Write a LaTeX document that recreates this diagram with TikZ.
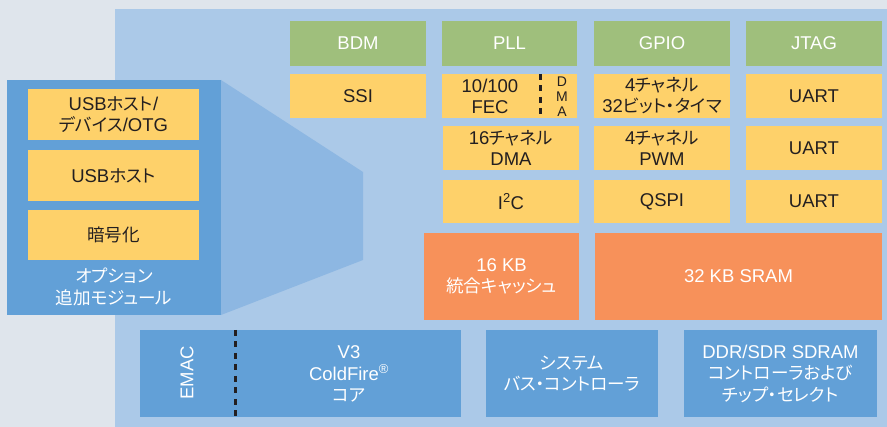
\documentclass[tikz,border=0pt]{standalone}
\usepackage{fontspec}
\setmainfont{Liberation Sans}
\newfontfamily\jpfont[RawFeature=+palt, Scale=0.95]{Noto Sans CJK JP}
\newcommand\jp[1]{{\jpfont #1}}
\usetikzlibrary{fit}
\definecolor{cbg}{HTML}{DFE5EC}
\definecolor{cpanel}{HTML}{ABC9E8}
\definecolor{cblu}{HTML}{62A0D7}
\definecolor{cfun}{HTML}{8DB7E2}
\definecolor{cgrn}{HTML}{9FBF7C}
\definecolor{cyel}{HTML}{FED16A}
\definecolor{corg}{HTML}{F7915A}
\definecolor{ctxt}{HTML}{231F20}
\tikzset{
  box/.style={inner sep=0pt, draw=none},
  yel/.style={box, fill=cyel},
  grn/.style={box, fill=cgrn},
  org/.style={box, fill=corg},
  blu/.style={box, fill=cblu},
  dtxt/.style={inner sep=0pt, align=center, text=ctxt, font=\fontsize{18.5}{21}\selectfont},
  wtxt/.style={inner sep=0pt, align=center, text=white, font=\fontsize{18.5}{21.5}\selectfont},
  divider/.style={draw=ctxt, line width=3pt, dash pattern=on 6pt off 5.5pt},
  vlet/.style={inner sep=0pt, text=ctxt, font=\fontsize{14}{14}\selectfont},
}
% \blk{name}{box style}{text style}{x1}{y1}{x2}{y2}{text}
\newcommand\blk[8]{%
  \node[#2, fit={(#4,#5)(#6,#7)}] (#1) {};
  \node[#3] (#1-t) at (#1.center) {#8};
}
\begin{document}
\begin{tikzpicture}[x=1pt,y=-1pt]
\useasboundingbox (0,0) rectangle (887,427);
\fill[cbg] (0,0) rectangle (887,427);
% main panel
\node[box, fill=cpanel, fit={(115,9)(887,427)}] (panel) {};
% funnel
\fill[cfun] (221,80) -- (363,172) -- (363,260) -- (221,315) -- cycle;
% option panel
\node[blu, fit={(7,80)(221,315)}] (opt) {};
\blk{usbotg}{yel}{dtxt}{28}{89}{199}{140}{USB\jp{ホスト}/\\\jp{デバイス}/OTG}
\blk{usbh}{yel}{dtxt}{28}{150}{199}{201}{USB\jp{ホスト}}
\blk{crypt}{yel}{dtxt}{28}{210}{199}{260}{\jp{暗号化}}
\node[wtxt] (optlbl) at (114,287) {\jp{オプション}\\\jp{追加モジュール}};
% green row
\blk{bdm}{grn}{wtxt}{290}{21}{426}{66}{BDM}
\blk{pll}{grn}{wtxt}{442}{21}{577}{66}{PLL}
\blk{gpio}{grn}{wtxt}{594}{21}{730}{66}{GPIO}
\blk{jtag}{grn}{wtxt}{746}{21}{882}{66}{JTAG}
% row 2
\blk{ssi}{yel}{dtxt}{290}{74}{426}{118}{SSI}
\node[yel, fit={(442,74)(577,118)}] (fec) {};
\node[dtxt] (fectxt) at (490,96) {10/100\\FEC};
\node[vlet, anchor=base] (dmaD) at (562,87) {D};
\node[vlet, anchor=base] (dmaM) at (562,102) {M};
\node[vlet, anchor=base] (dmaA) at (562,116.5) {A};
\coordinate (fd1) at (540,74);
\coordinate (fd2) at (540,118);
\draw[divider] (fd1) -- (fd2);
\blk{timer}{yel}{dtxt}{594}{74}{730}{118}{4\jp{チャネル}\\32\jp{ビット・タイマ}}
\blk{uart1}{yel}{dtxt}{746}{74}{882}{118}{UART}
% row 3
\blk{dma}{yel}{dtxt}{443}{126}{579}{170}{16\jp{チャネル}\\DMA}
\blk{pwm}{yel}{dtxt}{594}{126}{730}{170}{4\jp{チャネル}\\PWM}
\blk{uart2}{yel}{dtxt}{746}{126}{882}{170}{UART}
% row 4
\blk{i2c}{yel}{dtxt}{443}{180}{579}{223}{I\textsuperscript{2}C}
\blk{qspi}{yel}{dtxt}{594}{180}{730}{223}{QSPI}
\blk{uart3}{yel}{dtxt}{746}{180}{882}{223}{UART}
% row 5
\blk{cache}{org}{wtxt}{424}{233}{579}{320}{16 KB\\\jp{統合キャッシュ}}
\blk{sram}{org}{wtxt}{595}{233}{882}{320}{32 KB SRAM}
% bottom row
\node[blu, fit={(140,330)(461,417)}] (core) {};
\node[inner sep=0pt, text=white, rotate=90, font=\fontsize{18.5}{21}\selectfont] (emac) at (187,373) {EMAC};
\coordinate (ed1) at (235,330);
\coordinate (ed2) at (235,417);
\draw[divider] (ed1) -- (ed2);
\node[wtxt] (coretxt) at (349,374) {V3\\ColdFire\textsuperscript{®}\\\jp{コア}};
\blk{bus}{blu}{wtxt}{486}{330}{658}{417}{\jp{システム}\\\jp{バス・コントローラ}}
\blk{ddr}{blu}{wtxt}{684}{330}{877}{417}{DDR/SDR SDRAM\\\jp{コントローラおよび}\\\jp{チップ・セレクト}}
\end{tikzpicture}
\end{document}
